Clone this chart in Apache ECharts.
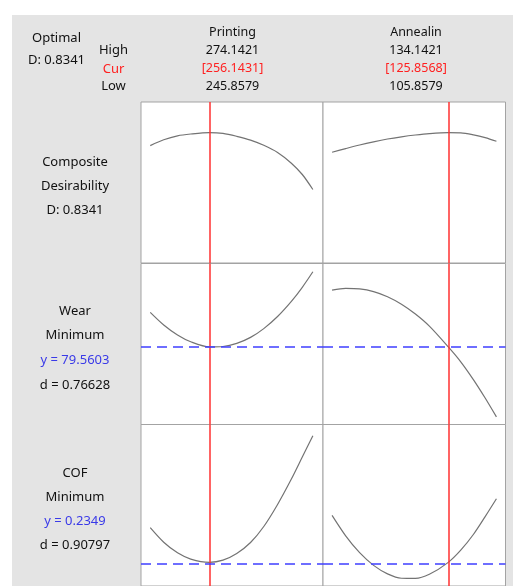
<!DOCTYPE html>
<html>
<head>
<meta charset="utf-8">
<script src="https://cdn.jsdelivr.net/npm/echarts@6/dist/echarts.min.js"></script>
<style>
  html, body { margin: 0; padding: 0; background: #ffffff; }
  #chart { width: 513px; height: 586px; }
</style>
</head>
<body>
<div id="chart"></div>
<script>
// Factor settings
const factorNames = ['Printing', 'Annealin'];
const factorHigh = ['274.1421', '134.1421'];
const factorCur = [256.1431, 125.8568];
const factorLow = ['245.8579', '105.8579'];

// Factor levels where the response curves are evaluated
const printingX = [245.86, 248.2, 250.6, 252.9, 256.1431, 258.5, 260.9, 263.3, 265.6, 268.0, 270.4, 272.3, 274.14];
const annealX = [105.86, 108.2, 110.6, 113.0, 115.4, 117.8, 120.2, 122.6, 125.8568, 128.0, 130.2, 132.2, 134.14];

// Composite desirability
const desPrinting = [0.7511, 0.7882, 0.8138, 0.8253, 0.8341, 0.8292, 0.8106, 0.7863, 0.7530, 0.7070, 0.6385, 0.5662, 0.4702];
const desAnneal = [0.7083, 0.7319, 0.7550, 0.7754, 0.7933, 0.8074, 0.8189, 0.8279, 0.8341, 0.8330, 0.8202, 0.8023, 0.7786];

// Wear (minimize)
const wearPrinting = [96.70, 90.44, 85.47, 82.09, 79.5603, 79.76, 81.30, 84.28, 88.65, 94.66, 102.17, 109.17, 116.88];
const wearAnneal = [107.73, 108.63, 108.38, 107.04, 104.50, 100.78, 95.91, 89.89, 79.5603, 72.16, 63.21, 54.17, 44.78];

// COF (minimize)
const cofPrinting = [0.3595, 0.3072, 0.2692, 0.2467, 0.2349, 0.2427, 0.2667, 0.3061, 0.3637, 0.4429, 0.5342, 0.6133, 0.6899];
const cofAnneal = [0.4035, 0.3301, 0.2696, 0.2241, 0.1937, 0.1779, 0.1772, 0.1919, 0.2349, 0.2785, 0.3358, 0.3992, 0.4633];

// Predicted responses at the current setting
const targets = [null, 79.5603, 0.2349];

// Row captions on the left
const rowLabels = [
  ['Composite', 'Desirability', 'D: 0.8341'],
  ['Wear', 'Minimum', 'y = 79.5603', 'd = 0.76628'],
  ['COF', 'Minimum', 'y = 0.2349', 'd = 0.90797']
];
const optimalLabel = ['Optimal', 'D: 0.8341'];

const FONT = 'Noto Sans';
const chart = echarts.init(document.getElementById('chart'));

const cols = [
  { left: 141, width: 182, min: 244.25, max: 275.9, x: printingX },
  { left: 323, width: 182.5, min: 104.3, max: 135.7, x: annealX }
];
const rows = [
  { top: 102, height: 161, min: 0, max: 1.03, y: [desPrinting, desAnneal] },
  { top: 263.5, height: 161, min: 41, max: 121, y: [wearPrinting, wearAnneal] },
  { top: 424.5, height: 162, min: 0.15, max: 0.73, y: [cofPrinting, cofAnneal] }
];

const grid = [], xAxis = [], yAxis = [], series = [];
rows.forEach((r, ri) => {
  cols.forEach((c, ci) => {
    const idx = grid.length;
    grid.push({
      left: c.left, top: r.top, width: c.width, height: r.height,
      show: true, backgroundColor: '#ffffff', borderColor: '#a3a3a3', borderWidth: 1
    });
    xAxis.push({
      type: 'value', gridIndex: idx, min: c.min, max: c.max,
      axisLine: { show: false }, axisTick: { show: false },
      axisLabel: { show: false }, splitLine: { show: false }
    });
    yAxis.push({
      type: 'value', gridIndex: idx, min: r.min, max: r.max,
      axisLine: { show: false }, axisTick: { show: false },
      axisLabel: { show: false }, splitLine: { show: false }
    });
    const marks = [{
      xAxis: factorCur[ci],
      lineStyle: { color: '#ff3030', width: 1.5, type: 'solid' }
    }];
    if (targets[ri] !== null) {
      marks.push({
        yAxis: targets[ri],
        lineStyle: { color: '#3f3fff', width: 1.5, type: [10, 6] }
      });
    }
    series.push({
      type: 'line', xAxisIndex: idx, yAxisIndex: idx,
      data: c.x.map((v, i) => [v, r.y[ci][i]]),
      smooth: 0.3, symbol: 'none',
      lineStyle: { color: '#737373', width: 1.2 },
      silent: true, animation: false,
      markLine: {
        silent: true, symbol: 'none', animation: false,
        label: { show: false },
        data: marks
      }
    });
  });
});

const texts = [];
function addText(text, x, y, fill, size) {
  texts.push({
    type: 'text', z: 10,
    style: {
      text: text, x: x, y: y, fill: fill || '#111111',
      align: 'center', verticalAlign: 'middle',
      fontSize: size || 13, fontFamily: FONT
    }
  });
}

addText(optimalLabel[0], 56.5, 38.3);
addText(optimalLabel[1], 56.5, 60);
addText('High', 113.5, 50.5);
addText('Cur', 113.5, 69, '#ff2020');
addText('Low', 113.5, 86);

const colCenters = [232.5, 416];
factorNames.forEach((n, i) => {
  addText(n, colCenters[i], 32, '#111111', 12.5);
  addText(factorHigh[i], colCenters[i], 50, '#111111', 12.5);
  addText('[' + factorCur[i].toFixed(4) + ']', colCenters[i], 68, '#ff2020', 12.5);
  addText(factorLow[i], colCenters[i], 86, '#111111', 12.5);
});

const labelY = [[162.7, 186.7, 210.7], [311.7, 335.5, 360, 385], [473.3, 497.3, 521.7, 545.5]];
rowLabels.forEach((lines, ri) => {
  lines.forEach((t, li) => {
    const blue = t.indexOf('y = ') === 0;
    addText(t, 75, labelY[ri][li], blue ? '#3a3ae8' : '#111111', 13);
  });
});

chart.setOption({
  animation: false,
  graphic: [{
    type: 'rect', z: -100,
    shape: { x: 12, y: 15, width: 501, height: 571 },
    style: { fill: '#e4e4e4' }
  }].concat(texts),
  grid: grid,
  xAxis: xAxis,
  yAxis: yAxis,
  series: series
});
</script>
</body>
</html>
